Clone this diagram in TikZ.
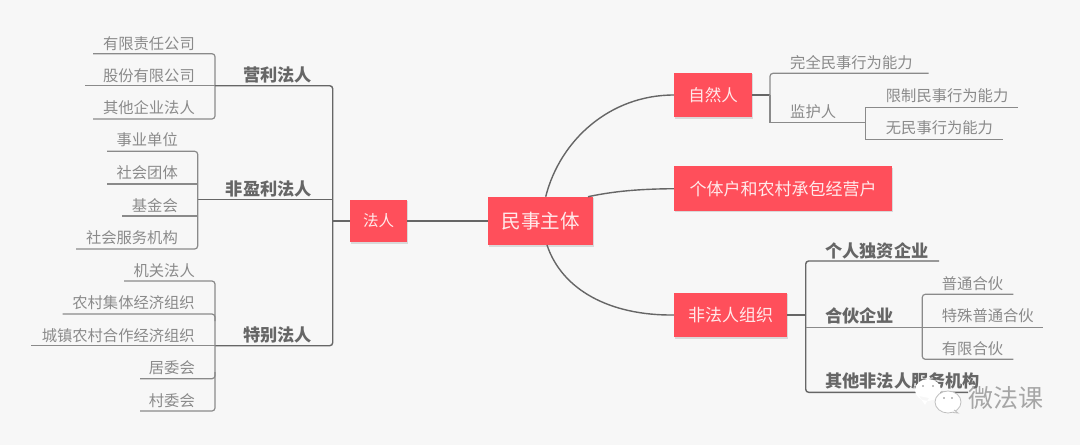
\documentclass[tikz,border=0pt]{standalone}
\usepackage{xcolor}
\usepackage{fontspec}
\setmainfont{Noto Sans CJK SC}
\definecolor{bgc}{HTML}{F7F7F7}
\definecolor{boxc}{HTML}{FF4F5B}
\definecolor{trunkc}{HTML}{666666}
\definecolor{twigc}{HTML}{8A8A8A}
\usetikzlibrary{shadows}

\begin{document}
\begin{tikzpicture}[x=1pt,y=-1pt,
redbox/.style={fill=boxc,text=white!88!boxc,minimum height=44.5pt,inner sep=0pt,drop shadow={shadow xshift=1.2pt,shadow yshift=-1.5pt,opacity=0.25},font=\fontsize{16.5}{18}\selectfont},
leaf/.style={text=twigc,inner sep=0pt,yshift=-0.7pt,font=\fontsize{15.3}{17}\selectfont},
head/.style={text=trunkc,inner sep=0pt,yshift=-0.5pt,font=\fontsize{17.2}{19}\selectfont\bfseries},
trunk/.style={draw=trunkc,line width=1.4pt,rounded corners=3pt},
twig/.style={draw=twigc,line width=1.2pt,rounded corners=3pt}]
\useasboundingbox[fill=bgc](0,0)rectangle(1080,445);
% centre and boxes
\node[redbox,minimum width=105pt,minimum height=48.5pt,font=\fontsize{19.5}{21}\selectfont](zhuti)at(540.5,221){民事主体};
\node[redbox,minimum width=57pt,minimum height=42.5pt,font=\fontsize{15.5}{17}\selectfont](faren)at(378.5,221){法人};
\node[redbox,minimum width=78pt](ziran)at(713,95){自然人};
\node[redbox,minimum width=218pt,font=\fontsize{17}{19}\selectfont](geti)at(783,188.7){个体户和农村承包经营户};
\node[redbox,minimum width=113pt,font=\fontsize{17}{19}\selectfont](feifaren)at(730.5,315){非法人组织};
\draw[trunk](zhuti.west)--(faren.east);
\coordinate(zhutia)at(545.7,196.7);
\coordinate(zhutib)at(588,196.7);
\coordinate(zhutic)at(547,245);
\draw[trunk](zhutia)..controls(560,140)and(610,95)..(ziran.west);
\draw[trunk](zhutib)..controls(615,191)and(640,189)..(geti.west);
\draw[trunk](zhutic)..controls(562,290)and(610,315.7)..(feifaren.west);
% left side
\coordinate(yingtop)at(332.7,85.7);
\coordinate(tebiebot)at(332.7,345.7);
\coordinate(tebiem)at(215,345.7);
\coordinate(feiyingr)at(332.7,199.3);
\coordinate(farenl)at(332.7,221);
\draw[trunk](farenl)--(faren.west);
\node[head,anchor=east](yingli)at(312,74){营利法人};
\node[head,anchor=east](feiying)at(312,188){非盈利法人};
\node[head,anchor=east](tebie)at(312,334){特别法人};
\node[leaf,anchor=east](youxian)at(195,43){有限责任公司};
\node[leaf,anchor=east](gufen)at(195,75){股份有限公司};
\node[leaf,anchor=east](qiye)at(195,107){其他企业法人};
\node[leaf,anchor=east](shiye)at(178,139){事业单位};
\node[leaf,anchor=east](tuanti)at(178,172){社会团体};
\node[leaf,anchor=east](jijin)at(178,205){基金会};
\node[leaf,anchor=east](fuwu)at(178,237){社会服务机构};
\node[leaf,anchor=east](jiguan)at(195,270){机关法人};
\node[leaf,anchor=east](jiti)at(195,302){农村集体经济组织};
\node[leaf,anchor=east](hezuo)at(195,335){城镇农村合作经济组织};
\node[leaf,anchor=east](juwei)at(195,367){居委会};
\node[leaf,anchor=east](cunwei)at(195,400){村委会};
\coordinate(youxianl)at(93,53.7);
\coordinate(gufenl)at(85,85.7);
\coordinate(qiyel)at(93,119);
\coordinate(qiyeb)at(215,119);
\coordinate(gufenm)at(215,85.7);
\coordinate(shiyel)at(107,151.3);
\coordinate(tuantil)at(107,184);
\coordinate(tuantir)at(197.7,184);
\coordinate(jijinl)at(122,216);
\coordinate(jijinr)at(197.7,216);
\coordinate(fuwul)at(76,249);
\coordinate(fuwub)at(197.7,249);
\coordinate(feiyingl)at(197.7,199.3);
\coordinate(jiguanl)at(124,281);
\coordinate(jitil)at(62.7,314);
\coordinate(jitir)at(215,321);
\coordinate(hezuol)at(31,345.7);
\coordinate(juweil)at(140,378.7);
\coordinate(juweir)at(215,372);
\coordinate(cunweil)at(140,411);
\coordinate(cunweib)at(215,411);
\draw[twig](youxianl)-|(qiyeb)--(qiyel);
\draw[twig](gufenl)--(gufenm);
\draw[trunk](gufenm)-|(tebiebot)--(tebiem);
\draw[trunk](feiyingl)--(feiyingr);
\draw[twig](hezuol)--(tebiem);
\draw[twig](shiyel)-|(fuwub)--(fuwul);
\draw[twig](tuantil)--(tuantir);
\draw[twig](jijinl)--(jijinr);
\draw[twig](jiguanl)-|(cunweib)--(cunweil);
\draw[twig](jitil)-|(jitir);
\draw[twig](juweil)-|(juweir);
% right side
\coordinate(ziranr)at(770,95);
\coordinate(wanquanr)at(928.7,73.3);
\coordinate(jianhub)at(770,122.3);
\coordinate(jianhur)at(865.7,122.3);
\coordinate(xianzhir)at(1017.7,107.3);
\coordinate(wuminr)at(1002.7,139.7);
\coordinate(wuminb)at(865.7,139.7);
\node[leaf,anchor=west](wanquan)at(790,62){完全民事行为能力};
\node[leaf,anchor=west](jianhu)at(790,110.7){监护人};
\node[leaf,anchor=west](xianzhi)at(885.7,94.7){限制民事行为能力};
\node[leaf,anchor=west](wumin)at(885.7,127){无民事行为能力};
\draw[trunk](ziran.east)--(ziranr);
\draw[twig](wanquanr)-|(ziranr);
\draw[twig,rounded corners=0pt](ziranr)|-(jianhur);
\draw[twig,rounded corners=0pt](xianzhir)-|(wuminb)--(wuminr);
\coordinate(feir)at(805.7,315);
\coordinate(duzir)at(939,261);
\coordinate(qitab)at(805.7,392.3);
\coordinate(qitar)at(968,392.3);
\coordinate(huobl)at(805.7,327.3);
\coordinate(huobm)at(922.3,327.3);
\coordinate(putongr)at(1013.3,294.3);
\coordinate(youxianhb)at(922.3,359.3);
\coordinate(youxianhr)at(1013.3,359.3);
\coordinate(teshur)at(1043,327.3);
\node[head,anchor=west](duzi)at(825,250){个人独资企业};
\node[head,anchor=west](huoban)at(825,315){合伙企业};
\node[head,anchor=west](qita)at(825,380.7){其他非法人服务机构};
\node[leaf,anchor=west](putong)at(941.7,282.7){普通合伙};
\node[leaf,anchor=west](teshu)at(941.7,315){特殊普通合伙};
\node[leaf,anchor=west](youxianh)at(941.7,347.7){有限合伙};
\draw[trunk](feifaren.east)--(feir);
\draw[trunk](duzir)-|(qitab)--(qitar);
\draw[twig](huobl)--(teshur);
\draw[twig](putongr)-|(youxianhb)--(youxianhr);
% watermark
\fill[white](928,390)ellipse(13 and 11)(919,396)--(925,405)--(929,398)--cycle;
\draw[draw=black!25,fill=white,line width=0.8pt](948,402)ellipse(13 and 11);
\draw[draw=black!25,fill=white,line width=0.8pt](954,410)--(958,413)--(953,412.5);
\fill[black!50](923,386)circle(0.9)(933,386)circle(0.9)(944,398)circle(0.9)(952,398)circle(0.9);
\node[inner sep=0pt,text=black!35,font=\fontsize{25}{27}\selectfont](weifa)at(1006,398){微法课};
\end{tikzpicture}
\end{document}
